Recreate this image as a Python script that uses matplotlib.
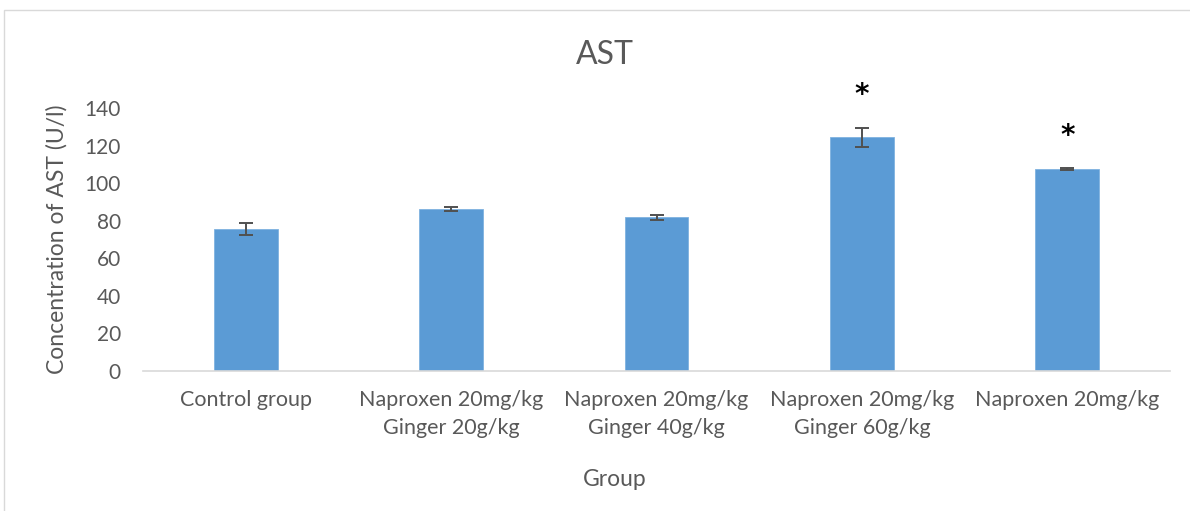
import matplotlib.pyplot as plt
from matplotlib.patches import Rectangle

plt.rcParams['font.family'] = ['Lato', 'DejaVu Sans']

groups = ["Control group", "Naproxen 20mg/kg\nGinger 20g/kg", "Naproxen 20mg/kg\nGinger 40g/kg",
          "Naproxen 20mg/kg\nGinger 60g/kg", "Naproxen 20mg/kg"]
ast_mean = [75.8, 86.2, 81.8, 124.5, 107.3]
ast_err = [3.2, 1.0, 1.3, 5.0, 0.5]
star_y = [None, None, None, 147, 125]

text_col = "#595959"
bar_col = "#5b9bd5"

fig = plt.figure(figsize=(11.9, 5.11), dpi=100)
ax = fig.add_axes([143 / 1190, 1 - 371 / 511, (1170 - 143) / 1190, (371 - 108) / 511])

x = list(range(len(groups)))
ax.bar(x, ast_mean, width=0.31, color=bar_col, edgecolor="#7fb2e0", linewidth=0.6,
       yerr=ast_err, ecolor="#505050", capsize=5, error_kw={"elinewidth": 1.4, "capthick": 1.4})

for xi, sy in zip(x, star_y):
    if sy is not None:
        ax.text(xi, sy, "*", ha="center", va="center", fontsize=20, fontweight="bold",
                family="DejaVu Sans", color="black", clip_on=False)

ax.set_xlim(-0.5, len(groups) - 0.5)
ax.set_ylim(0, 140)
ax.set_yticks(range(0, 141, 20))
ax.set_xticks(x)
ax.set_xticklabels(groups, fontsize=15.5, color=text_col, linespacing=1.45)
ax.tick_params(axis="y", labelsize=15, labelcolor=text_col, length=0, pad=16)
ax.tick_params(axis="x", length=0, pad=14)

for s in ["top", "right", "left"]:
    ax.spines[s].set_visible(False)
ax.spines["bottom"].set_color("#d9d9d9")
ax.spines["bottom"].set_linewidth(1.2)

# Excel centres the title and x label on the chart area, not the plot area
fig.text(605 / 1190, 1 - 55 / 511, "AST", fontsize=23, color=text_col, ha="center", va="center")
ax.set_ylabel("Concentration of AST (U/l)", fontsize=16.5, color=text_col, labelpad=12)
ax.set_xlabel("Group", fontsize=16.5, color=text_col)
ax.xaxis.set_label_coords((615 - 143) / 1027, -(469 - 371) / 263)

fig.patches.append(Rectangle((4 / 1190, -0.1), 1.2, 1 - 10 / 511 + 0.1, transform=fig.transFigure,
                             fill=False, edgecolor="#d9d9d9", linewidth=1.0))

fig.savefig("out.png", dpi=100)
